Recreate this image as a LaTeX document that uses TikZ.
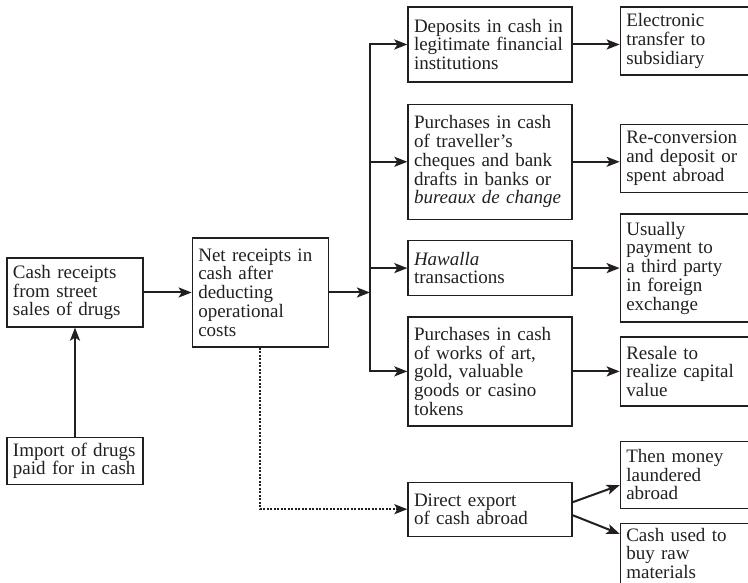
\documentclass[tikz,border=0pt]{standalone}
\usepackage{fontspec}
\setmainfont{Liberation Serif}
\usetikzlibrary{positioning,arrows.meta}
\definecolor{InkGray}{RGB}{35,31,32}
\tikzset{
  flow/.style={-{Stealth[length=13bp,width=10bp,inset=3bp]},line width=2bp,draw=InkGray},
  trunk/.style={line width=2bp,line cap=rect,draw=InkGray},
  dotflow/.style={-{Stealth[length=13bp,width=10bp,inset=3bp]},line width=2bp,
    dash pattern=on 2bp off 1.5bp,draw=InkGray},
  box/.style={draw=InkGray,line width=1.3bp,inner xsep=6bp,inner ysep=3bp,align=left,
    text=InkGray,font=\fontsize{19bp}{18.7bp}\selectfont},
  leftbox/.style={box,text width=124bp},
  midbox/.style={box,text width=152bp},
  rightbox/.style={box,text width=116.5bp}
}

\begin{document}
\begin{tikzpicture}[x=1bp,y=1bp]
  \useasboundingbox (0,0) rectangle (748,583);
  \clip (0,0) rectangle (748,583);
  % sources
  \node[leftbox,minimum height=69bp] (cash) at (75,290.5) {Cash receipts\\from street\\sales of drugs};
  \node[leftbox,minimum height=109bp,right=48bp of cash] (net) {Net receipts in\\cash after\\deducting\\operational\\costs};
  \node[leftbox,minimum height=47bp,below=109bp of cash] (import) {Import of drugs\\paid for in cash};
  % channels
  \node[midbox,minimum height=75bp] (deposits) at (490,538.5) {Deposits in cash in\\legitimate financial\\institutions};
  \node[midbox,minimum height=115bp,below=21bp of deposits] (traveller) {Purchases in cash\\of traveller's\\cheques and bank\\drafts in banks or\\\textit{bureaux de change}};
  \node[midbox,minimum height=55bp,below=20bp of traveller] (hawalla) {\textit{Hawalla}\\transactions};
  \node[midbox,minimum height=109bp,below=20bp of hawalla] (works) {Purchases in cash\\of works of art,\\gold, valuable\\goods or casino\\tokens};
  \node[midbox,minimum height=54bp,below=55bp of works] (export) {Direct export\\of cash abroad};
  % outcomes
  \node[rightbox,minimum height=68bp,right=47bp of deposits,yshift=3.5bp] (transfer) {Electronic\\transfer to\\subsidiary};
  \node[rightbox,minimum height=68bp,right=47bp of traveller,yshift=3.5bp] (reconvert) {Re-conversion\\and deposit or\\spent abroad};
  \node[rightbox,minimum height=108bp,right=47bp of hawalla] (thirdparty) {Usually\\payment to\\a third party\\in foreign\\exchange};
  \node[rightbox,minimum height=69bp,right=47bp of works] (resale) {Resale to\\realize capital\\value};
  \node[rightbox,minimum height=67bp,right=47bp of export,yshift=34.5bp] (laundered) {Then money\\laundered\\abroad};
  \node[rightbox,text height=14.5bp,text depth=50bp,anchor=north west] (rawgoods)
    at ([xshift=47bp,yshift=14bp]export.south east) {Cash used to\\buy raw\\materials};
  \coordinate[right=41bp of net] (fork);
  \draw[flow] (import) -- (cash);
  \draw[flow] (cash) -- (net);
  \draw[flow] (net) -- (fork);
  \draw[trunk] (fork |- deposits.west) -- (fork |- works.west);
  \foreach \dest in {deposits,traveller,hawalla,works}
    \draw[flow] (fork |- \dest.west) -- (\dest);
  \foreach \src/\dest in {deposits/transfer,traveller/reconvert,hawalla/thirdparty,works/resale}
    \draw[flow] (\src.east) -- (\src.east -| \dest.west);
  \draw[dotflow] (net.south) |- (export);
  \draw[flow] ([yshift=7bp]export.east) -- ([yshift=-10.5bp]laundered.west);
  \draw[flow] ([yshift=-6bp]export.east) -- ([yshift=-11bp]rawgoods.north west);
\end{tikzpicture}
\end{document}
